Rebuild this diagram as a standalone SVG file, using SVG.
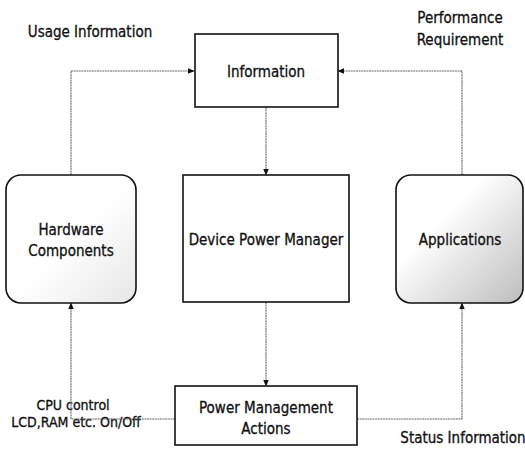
<svg xmlns="http://www.w3.org/2000/svg" width="525" height="456" viewBox="0 0 525 456">
<defs>
<style>
text{font-family:"Liberation Sans Narrow","DejaVu Sans Condensed","Liberation Sans",sans-serif;font-size:15px;fill:#111;stroke:#111;stroke-width:0.3;text-anchor:middle}
.sm{font-size:14px}
.box{fill:#fff;stroke:#111;stroke-width:1.6}
.conn{fill:none;stroke:#666;stroke-width:1.1;stroke-dasharray:2 0.6}
</style>
<marker id="ah" viewBox="0 0 10 10" refX="9" refY="5" markerWidth="7" markerHeight="7" markerUnits="userSpaceOnUse" orient="auto">
<path d="M0,1 L10,5 L0,9 z" fill="#111"/>
</marker>
<linearGradient id="gApp" x1="0" y1="0" x2="1" y2="1">
<stop offset="0.35" stop-color="#fff"/>
<stop offset="1" stop-color="#bdbdbd"/>
</linearGradient>
<linearGradient id="gHw" x1="0" y1="0" x2="1" y2="1">
<stop offset="0.5" stop-color="#fff"/>
<stop offset="1" stop-color="#e6e6e6"/>
</linearGradient>
</defs>
<text x="90" y="37">Usage Information</text>
<text x="460" y="23">Performance</text>
<text x="460" y="45">Requirement</text>
<text class="sm" x="73" y="410">CPU control</text>
<text class="sm" x="76" y="427">LCD,RAM etc. On/Off</text>
<text x="463" y="443">Status Information</text>
<g id="connectors">
<path class="conn" d="M71,175 V71 H194" marker-end="url(#ah)"/>
<path class="conn" d="M462,175 V71 H338" marker-end="url(#ah)"/>
<path class="conn" d="M266,107 V175" marker-end="url(#ah)"/>
<path class="conn" d="M266,302 V386" marker-end="url(#ah)"/>
<path class="conn" d="M175,419 H71 V303" marker-end="url(#ah)"/>
<path class="conn" d="M357,419 H462 V303" marker-end="url(#ah)"/>
</g>
<g id="information">
<rect class="box" x="195" y="34" width="143" height="73"/>
<text x="266" y="77">Information</text>
</g>
<g id="hardware">
<rect class="box" x="6" y="175" width="130" height="128" rx="15" style="fill:url(#gHw)"/>
<text x="71" y="235">Hardware</text>
<text x="71" y="256">Components</text>
</g>
<g id="dpm">
<rect class="box" x="183" y="175" width="166" height="127"/>
<text x="266" y="245">Device Power Manager</text>
</g>
<g id="applications">
<rect class="box" x="396" y="175" width="127" height="128" rx="15" style="fill:url(#gApp)"/>
<text x="460" y="245">Applications</text>
</g>
<g id="pma">
<rect class="box" x="175" y="386" width="182" height="59"/>
<text x="266" y="413">Power Management</text>
<text x="266" y="434">Actions</text>
</g>
</svg>
